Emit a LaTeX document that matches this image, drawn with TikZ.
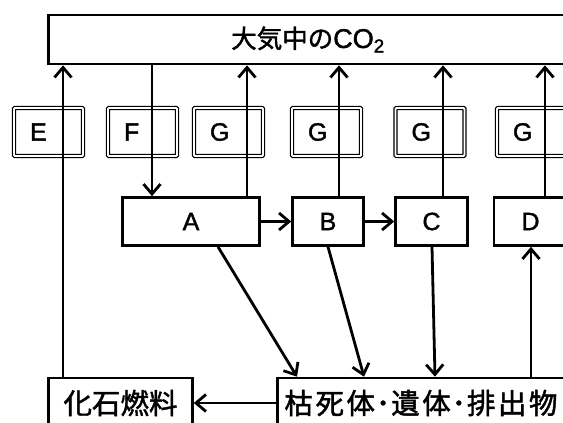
\documentclass[tikz,border=0pt]{standalone}
\usepackage{fontspec}
\setmainfont[RawFeature={embolden=1.6}]{Liberation Sans}
\newfontfamily\jp[RawFeature={embolden=1.6}]{Noto Sans CJK JP}
\usetikzlibrary{arrows.meta}
\begin{document}
\begin{tikzpicture}[x=1pt,y=-1pt,
  box/.style={draw,line width=2.6pt,minimum height=48pt,inner sep=0pt,font=\fontsize{25}{30}\selectfont},
  gbox/.style={draw,double,double distance=1.8pt,line width=1.3pt,rounded corners=1pt,
    minimum height=48pt,minimum width=69pt,text width=37pt,inner xsep=16pt,inner ysep=0pt,align=left,
    font=\fontsize{25}{30}\selectfont},
  jpbox/.style={box,minimum height=50pt,font=\jp\fontsize{28.5}{32}\selectfont},
  arr/.style={line width=2.8pt,-{Straight Barb[length=10pt,width=17pt]}}]
\useasboundingbox (0,0) rectangle (563,423);
\clip (0,0) rectangle (563,423);
% top box
\node[box,minimum width=519pt,minimum height=49pt] (top) at (308,39.5) {{\jp\fontsize{25.5}{30}\selectfont 大気中の}{\fontsize{27}{30}\selectfont CO\textsubscript{2}}};
% double boxes
\node[gbox] (E) at (48.5,132) {E};
\node[gbox] (F) at (142.5,132) {F};
\node[gbox] (G1) at (228.5,132) {G};
\node[gbox] (G2) at (326.5,132) {G};
\node[gbox] (G3) at (430,132) {G};
\node[gbox] (G4) at (531.5,132) {G};
% organisms
\node[box,minimum width=137pt] (A) at (191,221.5) {A};
\node[box,minimum width=71pt] (B) at (328,221.5) {B};
\node[box,minimum width=72pt] (C) at (431.5,221.5) {C};
\node[box,minimum width=73pt] (D) at (530.5,221.5) {D};
% bottom boxes
\node[jpbox,minimum width=144pt] (fossil) at (120.5,403) {化石燃料};
\node[jpbox,minimum width=287pt] (bot) at (421,403) {枯\kern2.5pt 死\kern2.5pt 体\kern1pt ･\kern1pt 遺\kern2.5pt 体\kern1pt ･\kern1pt 排\kern2.5pt 出\kern2.5pt 物};
% x positions
\coordinate (xE) at (63,0);
\coordinate (xF) at (152,0);
\coordinate (xA) at (247,0);
\coordinate (xB) at (339,0);
\coordinate (xC) at (443,0);
\coordinate (xD) at (545,0);
\coordinate (xAd) at (218,0);
\coordinate (xAb) at (297,0);
\coordinate (xBd) at (328,0);
\coordinate (xBb) at (364,0);
\coordinate (xCd) at (432,0);
\coordinate (xCb) at (435,0);
\coordinate (xDu) at (531,0);
% connectors
\draw[arr] (fossil.north -| xE) -- (top.south -| xE);
\draw[arr] (top.south -| xF) -- (A.north -| xF);
\draw[arr] (A.north -| xA) -- (top.south -| xA);
\draw[arr] (B.north -| xB) -- (top.south -| xB);
\draw[arr] (C.north -| xC) -- (top.south -| xC);
\draw[arr] (D.north -| xD) -- (top.south -| xD);
\draw[arr] (A.east) -- (B.west);
\draw[arr] (B.east) -- (C.west);
\draw[arr] (A.south -| xAd) -- (bot.north -| xAb);
\draw[arr] (B.south -| xBd) -- (bot.north -| xBb);
\draw[arr] (C.south -| xCd) -- (bot.north -| xCb);
\draw[arr] (bot.north -| xDu) -- (D.south -| xDu);
\draw[arr] (bot.west) -- (fossil.east);
\end{tikzpicture}
\end{document}
